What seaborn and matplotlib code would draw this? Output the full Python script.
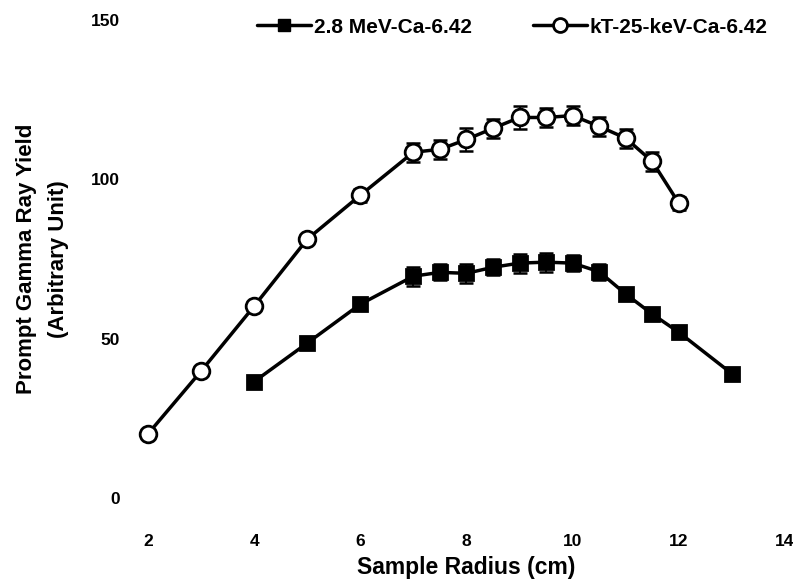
import numpy as np
import pandas as pd
import matplotlib
matplotlib.use("Agg")
import matplotlib.pyplot as plt
import seaborn as sns
from matplotlib.lines import Line2D

# ---- data ----
radius_mev = [4, 5, 6, 7, 7.5, 8, 8.5, 9, 9.5, 10, 10.5, 11, 11.5, 12, 13]
yield_mev = [36.5, 48.6, 60.8, 69.6, 70.8, 70.5, 72.4, 73.7, 74.0, 73.7, 71.0, 64.0, 57.7, 52.0, 39.0]
err_mev = [0, 0, 0, 3, 2.5, 3, 2.5, 3, 3, 2.5, 2.5, 2, 0, 0, 0]

radius_kt = [2, 3, 4, 5, 6, 7, 7.5, 8, 8.5, 9, 9.5, 10, 10.5, 11, 11.5, 12]
yield_kt = [20.1, 39.8, 60.2, 81.2, 95.0, 108.5, 109.4, 112.5, 116.0, 119.4, 119.4, 120.0, 116.6, 112.9, 105.6, 92.5]
err_kt = [0, 0, 0, 1, 2, 3, 3, 3.5, 3, 3.5, 3, 3, 3, 3, 3, 2]

label_mev = "2.8 MeV-Ca-6.42"
label_kt = "kT-25-keV-Ca-6.42"
xticks = [2, 4, 6, 8, 10, 12, 14]
yticks = [0, 50, 100, 150]
xlabel = "Sample Radius (cm)"
ylabel = "Prompt Gamma Ray Yield\n(Arbitrary Unit)"

df = pd.concat([
    pd.DataFrame({"r": radius_mev, "y": yield_mev, "s": label_mev}),
    pd.DataFrame({"r": radius_kt, "y": yield_kt, "s": label_kt}),
])

sns.set_theme(style="white")
plt.rcParams['font.family'] = ['Liberation Sans', 'DejaVu Sans']

fig = plt.figure(figsize=(7.93, 5.84), dpi=100)
ax = fig.add_axes([0.1866, 0.1473, 0.8033, 0.8185])

ax.errorbar(radius_mev, yield_mev, yerr=err_mev, fmt='none', ecolor='black',
            elinewidth=1.3, capsize=5, capthick=1.8, zorder=2)
ax.errorbar(radius_kt, yield_kt, yerr=err_kt, fmt='none', ecolor='black',
            elinewidth=1.3, capsize=5, capthick=1.8, zorder=2)

sns.lineplot(data=df, x="r", y="y", hue="s", style="s",
             palette={label_mev: "black", label_kt: "black"},
             markers={label_mev: "s", label_kt: "o"}, dashes=False,
             linewidth=2.5, ax=ax, legend=False, zorder=3)

for ln, mfc, ms in zip(ax.lines[-2:], ["black", "white"], [10, 12]):
    ln.set_markerfacecolor(mfc)
    ln.set_markeredgecolor("black")
    ln.set_markeredgewidth(2)
    ln.set_markersize(ms)
    ln.set_clip_on(False)

ax.set_xlim(2, 14)
ax.set_ylim(0, 150)
ax.set_xticks(xticks)
ax.set_yticks(yticks)
ax.tick_params(axis='x', length=0, pad=26, labelsize=12.5, labelcolor='black')
ax.tick_params(axis='y', length=0, pad=20, labelsize=12.5, labelcolor='black')
for t in ax.get_xticklabels() + ax.get_yticklabels():
    t.set_fontweight('bold')
for s in ax.spines.values():
    s.set_visible(False)

ax.set_xlabel(xlabel, fontsize=16.5, fontweight='bold', labelpad=5, color='black')
ax.set_ylabel(ylabel, fontsize=16, fontweight='bold', labelpad=16, color='black',
              linespacing=1.7)

handles = [
    Line2D([], [], color='black', lw=2.5, marker='s', ms=9, mfc='black', mec='black'),
    Line2D([], [], color='black', lw=2.5, marker='o', ms=10, mfc='white', mec='black', mew=2),
]
leg = ax.legend(handles, [label_mev, label_kt], loc='center', ncol=2,
                bbox_to_anchor=(0.572, 0.985), frameon=False, handlelength=2.6,
                handletextpad=0.15, columnspacing=2.9,
                prop={'size': 15, 'weight': 'bold'})
for t in leg.get_texts():
    t.set_color('black')

fig.savefig("out.png", dpi=100)
